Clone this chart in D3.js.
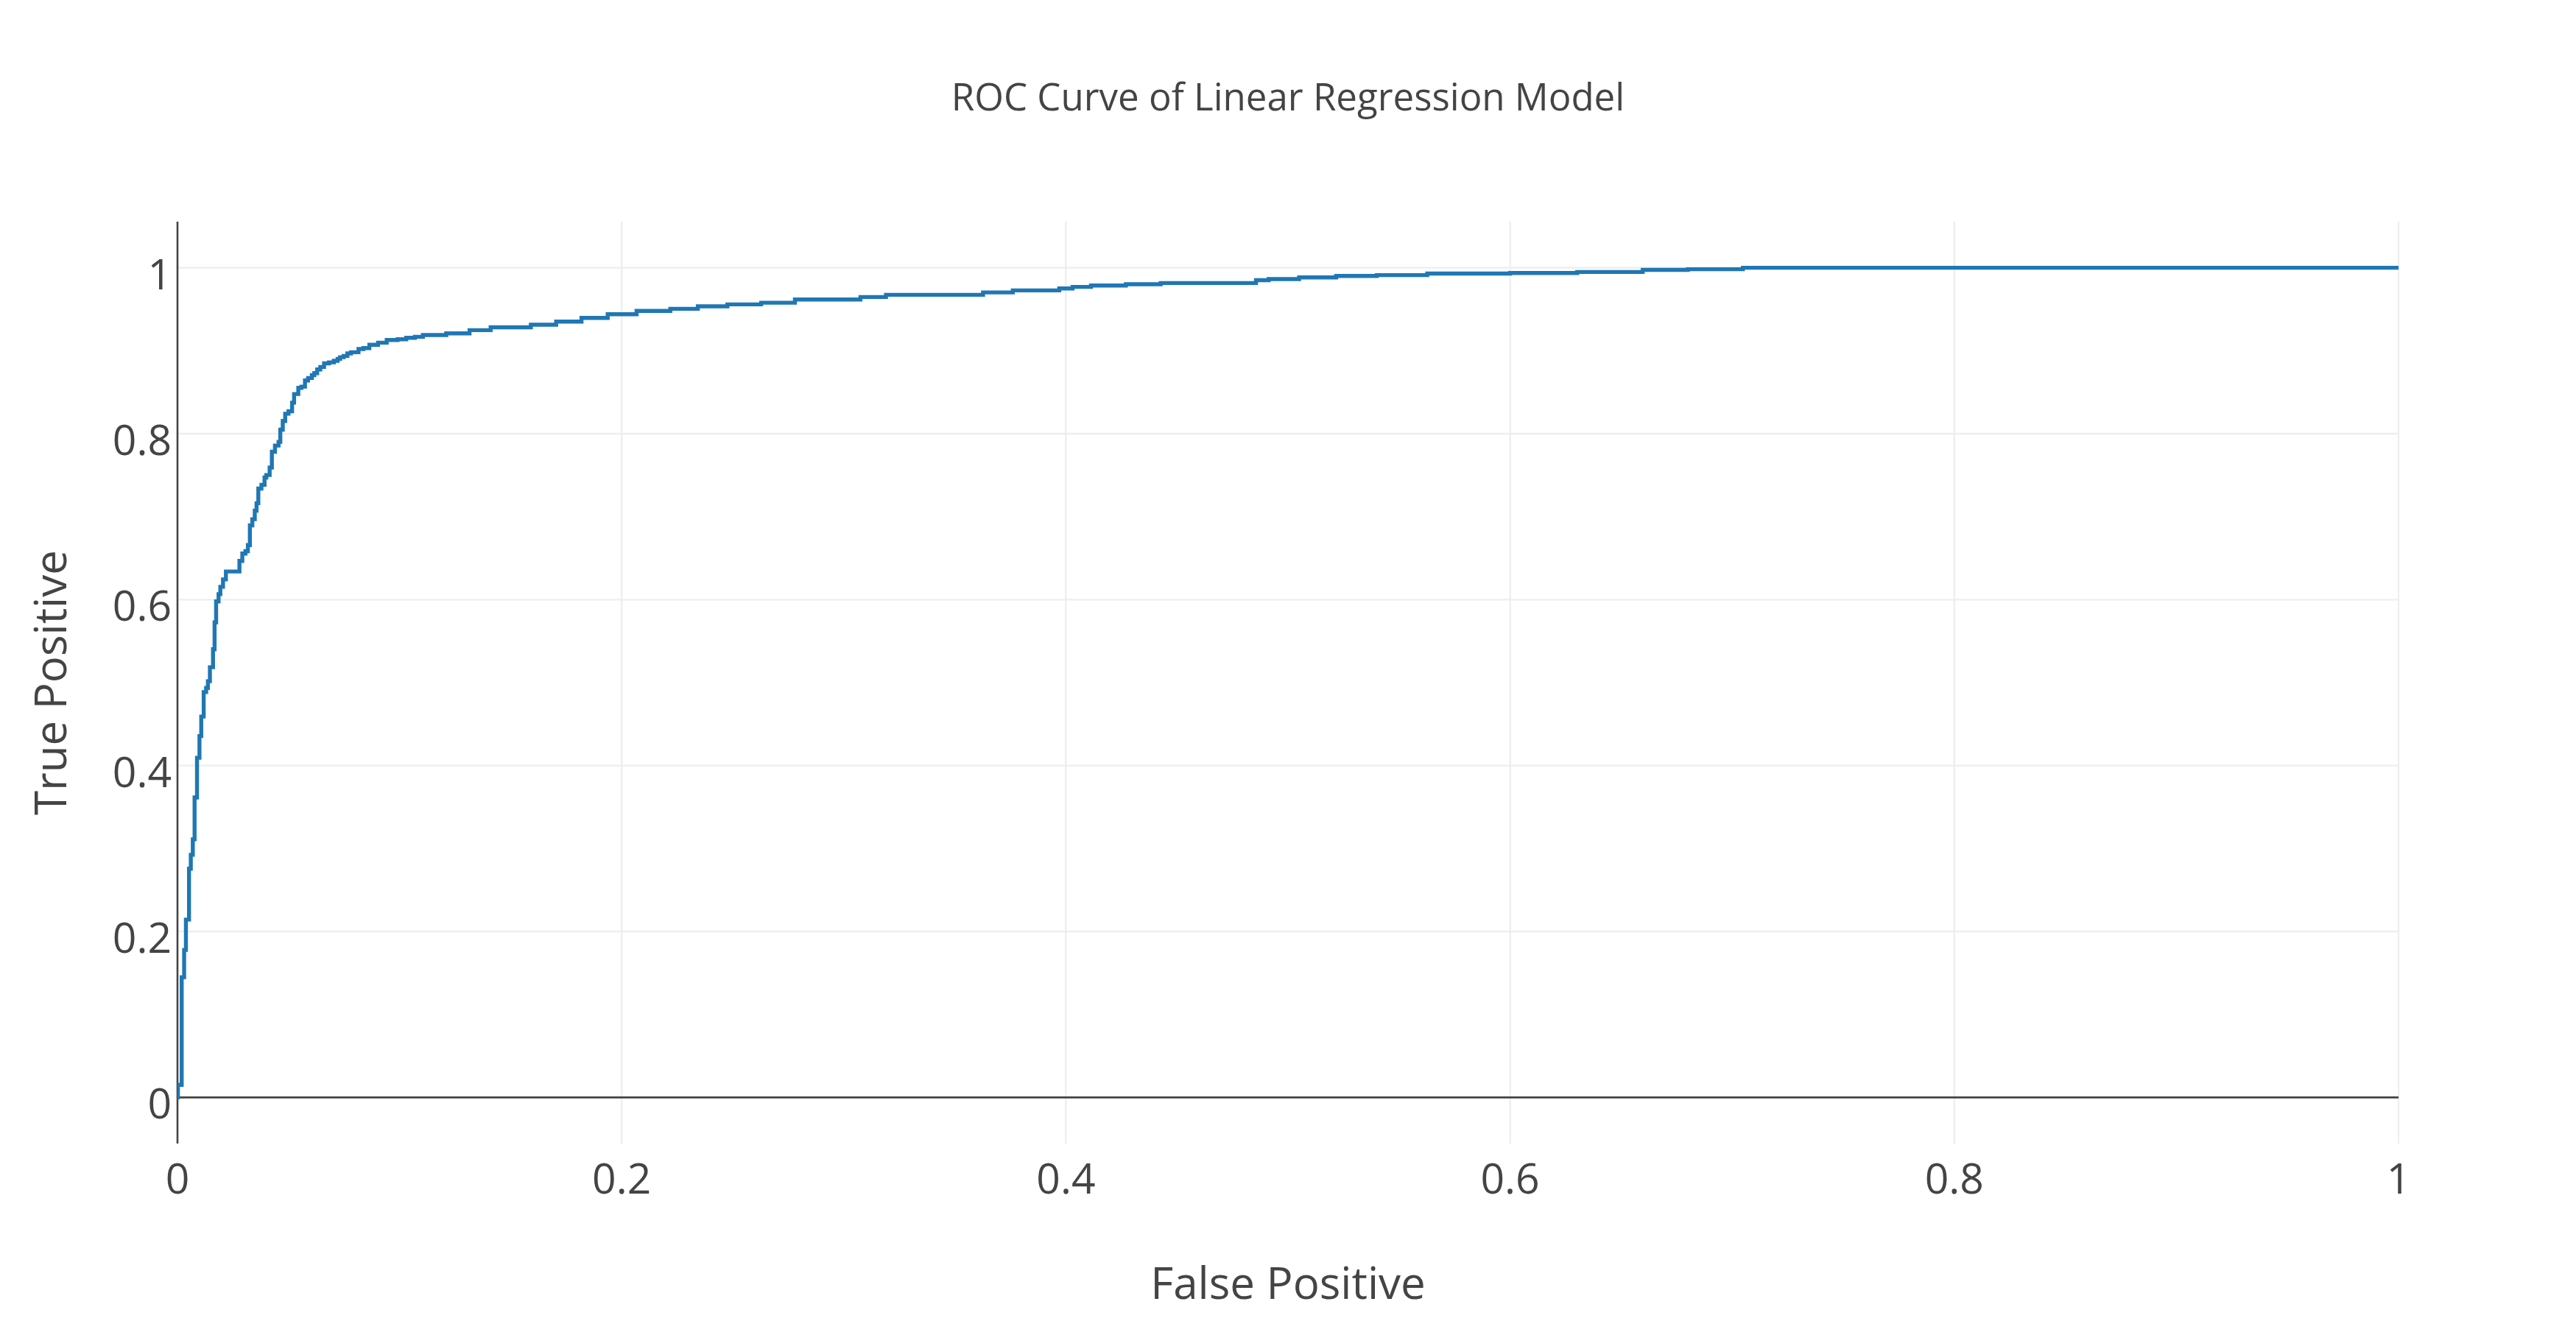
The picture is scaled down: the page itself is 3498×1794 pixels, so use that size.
<!DOCTYPE html>
<html>
<head>
<meta charset="utf-8">
<script src="https://cdn.jsdelivr.net/npm/d3@7"></script>
<style>
  html, body { margin: 0; padding: 0; background: #fff; }
  svg { display: block; }
</style>
</head>
<body>
<svg id="chart" width="3498" height="1794"></svg>
<script>
// ---- data ----
const titleText = "ROC Curve of Linear Regression Model";
const xTitle = "False Positive";
const yTitle = "True Positive";
const xTicks = [0, 0.2, 0.4, 0.6, 0.8, 1];
const yTicks = [0, 0.2, 0.4, 0.6, 0.8, 1];
const xTickLabels = ["0", "0.2", "0.4", "0.6", "0.8", "1"];
const yTickLabels = ["0", "0.2", "0.4", "0.6", "0.8", "1"];

// ROC corner points: at each fpr the curve rises to tpr
const fpr = [0, 0.0002, 0.0019, 0.0030, 0.0038, 0.0052, 0.0060, 0.0069, 0.0077, 0.0088,
  0.0099, 0.0107, 0.0118, 0.0129, 0.0137, 0.0146, 0.0160, 0.0167, 0.0174, 0.0185,
  0.0193, 0.0205, 0.0218, 0.0279, 0.0292, 0.0306, 0.0317, 0.0326, 0.0337, 0.0348,
  0.0356, 0.0364, 0.0378, 0.0392, 0.0400, 0.0415, 0.0425, 0.0439, 0.0455, 0.0463,
  0.0474, 0.0485, 0.0500, 0.0516, 0.0525, 0.0544, 0.0558, 0.0574, 0.0588, 0.0605,
  0.0616, 0.0629, 0.0643, 0.0660, 0.0682, 0.0704, 0.0721, 0.0732, 0.0748, 0.0765,
  0.0781, 0.0815, 0.0837, 0.0864, 0.0903, 0.0942, 0.0991, 0.1030, 0.1069, 0.1105,
  0.1210, 0.1315, 0.1410, 0.1591, 0.1705, 0.1819, 0.1937, 0.2067, 0.2219, 0.2343,
  0.2476, 0.2628, 0.2780, 0.3075, 0.3190, 0.3627, 0.3761, 0.3970, 0.4030, 0.4113,
  0.4270, 0.4427, 0.4856, 0.4913, 0.5050, 0.5217, 0.5400, 0.5627, 0.6000, 0.6302,
  0.6597, 0.6800, 0.7048, 1.0];
const tpr = [0, 0.0152, 0.1449, 0.1777, 0.2143, 0.2757, 0.2924, 0.3111, 0.3616, 0.4094,
  0.4355, 0.4591, 0.4886, 0.4935, 0.5017, 0.5185, 0.5402, 0.5726, 0.5978, 0.6066,
  0.6155, 0.6244, 0.6339, 0.6466, 0.6555, 0.6584, 0.6658, 0.6895, 0.6969, 0.7073,
  0.7162, 0.7339, 0.7384, 0.7472, 0.7502, 0.7591, 0.7783, 0.7857, 0.7901, 0.8049,
  0.8153, 0.8241, 0.8271, 0.8374, 0.8478, 0.8552, 0.8567, 0.8641, 0.8671, 0.8706,
  0.8730, 0.8774, 0.8804, 0.8848, 0.8860, 0.8878, 0.8902, 0.8922, 0.8937, 0.8967,
  0.8982, 0.9020, 0.9032, 0.9071, 0.9097, 0.9129, 0.9138, 0.9156, 0.9168, 0.9189,
  0.9209, 0.9248, 0.9283, 0.9313, 0.9351, 0.9396, 0.9440, 0.9480, 0.9505, 0.9535,
  0.9559, 0.9579, 0.9617, 0.9647, 0.9674, 0.9703, 0.9727, 0.9750, 0.9769, 0.9786,
  0.9801, 0.9816, 0.9850, 0.9864, 0.9884, 0.9901, 0.9911, 0.9930, 0.9937, 0.9949,
  0.9975, 0.9982, 1.0, 1.0];

// ---- layout ----
const W = 3498, H = 1794;
const plot = { left: 241, right: 3257, top: 301, bottom: 1553 };
const fontFam = "'Open Sans', 'DejaVu Sans', Arial, sans-serif";
const textColor = "#444";

const svg = d3.select("#chart");
svg.append("rect").attr("width", W).attr("height", H).attr("fill", "#fff");

const x = d3.scaleLinear().domain([0, 1]).range([plot.left, plot.right]);
const y = d3.scaleLinear().domain([-0.0556, 1.0556]).range([plot.bottom, plot.top]);

// grid lines
const grid = svg.append("g");
grid.selectAll("line.vg").data(xTicks.filter(d => d !== 0)).join("line")
  .attr("x1", d => x(d)).attr("x2", d => x(d))
  .attr("y1", plot.top).attr("y2", plot.bottom)
  .attr("stroke", "#eee").attr("stroke-width", 2.3);
grid.selectAll("line.hg").data(yTicks.filter(d => d !== 0)).join("line")
  .attr("x1", plot.left).attr("x2", plot.right)
  .attr("y1", d => y(d)).attr("y2", d => y(d))
  .attr("stroke", "#eee").attr("stroke-width", 2.3);

// zero lines
svg.append("line")
  .attr("x1", x(0)).attr("x2", x(0)).attr("y1", plot.top).attr("y2", plot.bottom)
  .attr("stroke", "#444").attr("stroke-width", 2.6);
svg.append("line")
  .attr("x1", plot.left).attr("x2", plot.right).attr("y1", y(0)).attr("y2", y(0))
  .attr("stroke", "#444").attr("stroke-width", 2.6);

// curve
svg.append("clipPath").attr("id", "clip").append("rect")
  .attr("x", plot.left).attr("y", plot.top)
  .attr("width", plot.right - plot.left).attr("height", plot.bottom - plot.top);
const pts = fpr.map((f, i) => [f, tpr[i]]);
const line = d3.line().x(d => x(d[0])).y(d => y(d[1])).curve(d3.curveStepAfter);
svg.append("path").datum(pts)
  .attr("clip-path", "url(#clip)")
  .attr("d", line)
  .attr("fill", "none").attr("stroke", "#1f77b4")
  .attr("stroke-width", 5.4).attr("stroke-linejoin", "miter");

// tick labels
const tickSize = 57;
svg.append("g").selectAll("text").data(xTicks).join("text")
  .attr("x", d => x(d)).attr("y", 1621)
  .attr("text-anchor", "middle")
  .attr("font-family", fontFam).attr("font-size", tickSize).attr("fill", textColor)
  .text((d, i) => xTickLabels[i]);
svg.append("g").selectAll("text").data(yTicks).join("text")
  .attr("x", 233).attr("y", d => y(d) + 29)
  .attr("text-anchor", "end")
  .attr("font-family", fontFam).attr("font-size", tickSize).attr("fill", textColor)
  .text((d, i) => yTickLabels[i]);

// titles
svg.append("text")
  .attr("x", (plot.left + plot.right) / 2).attr("y", 150)
  .attr("text-anchor", "middle")
  .attr("font-family", fontFam).attr("font-size", 51).attr("fill", textColor)
  .text(titleText);
svg.append("text")
  .attr("x", (plot.left + plot.right) / 2).attr("y", 1764)
  .attr("text-anchor", "middle")
  .attr("font-family", fontFam).attr("font-size", 60).attr("fill", textColor)
  .text(xTitle);
svg.append("text")
  .attr("transform", `translate(90, ${(plot.top + plot.bottom) / 2}) rotate(-90)`)
  .attr("text-anchor", "middle")
  .attr("font-family", fontFam).attr("font-size", 60).attr("fill", textColor)
  .text(yTitle);
</script>
</body>
</html>
